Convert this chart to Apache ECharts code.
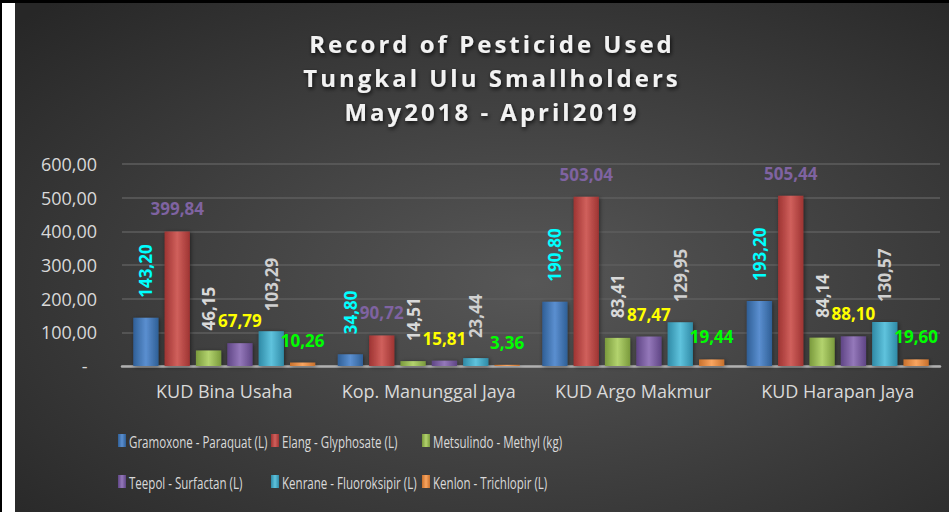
<!DOCTYPE html>
<html>
<head>
<meta charset="utf-8">
<script src="https://cdn.jsdelivr.net/npm/echarts@6/dist/echarts.min.js"></script>
<style>
html,body{margin:0;padding:0;background:#fff;}
#frame{position:relative;width:949px;height:512px;box-sizing:border-box;border-top:3px solid #000;border-left:2px solid #000;overflow:hidden;}
#chart{position:absolute;left:13px;top:0;width:934px;height:509px;}
</style>
</head>
<body>
<div id="frame"><div id="chart"></div></div>
<script>
const categories = ['KUD Bina Usaha', 'Kop. Manunggal Jaya', 'KUD Argo Makmur', 'KUD Harapan Jaya'];
const seriesNames = ['Gramoxone - Paraquat (L)', 'Elang - Glyphosate (L)', 'Metsulindo - Methyl (kg)', 'Teepol - Surfactan (L)', 'Kenrane - Fluoroksipir (L)', 'Kenlon - Trichlopir (L)'];
const gramoxone = [143.20, 34.80, 190.80, 193.20];
const elang = [399.84, 90.72, 503.04, 505.44];
const metsulindo = [46.15, 14.51, 83.41, 84.14];
const teepol = [67.79, 15.81, 87.47, 88.10];
const kenrane = [103.29, 23.44, 129.95, 130.57];
const kenlon = [10.26, 3.36, 19.44, 19.60];
const yTicks = [0, 100, 200, 300, 400, 500, 600];
const titleLines = ['Record of Pesticide Used', 'Tungkal Ulu Smallholders', 'May2018 - April2019'];

const seriesData = [gramoxone, elang, metsulindo, teepol, kenrane, kenlon];
const barColors = [
  ['#2f5f96', '#5b8fd0'],
  ['#9e3432', '#d0605c'],
  ['#7a9a3c', '#b3d36e'],
  ['#5f4585', '#9478ba'],
  ['#2f8aa6', '#5fc3dd'],
  ['#c8702c', '#f9a560']
];
const labelColors = ['#00ffff', '#7f63a1', '#d9d9d9', '#ffff00', '#d0d0d0', '#00ff00'];
const labelRotated = [true, false, true, false, true, false];
// legend icon left x / row centre y (page pixels)
const legendPos = [[118, 441], [271, 441], [422, 441], [118, 482], [271, 482], [422, 482]];

function fmt(v) { return v.toFixed(2).replace('.', ','); }

const chart = echarts.init(document.getElementById('chart'), null, { renderer: 'svg' });
const FONT = 'Open Sans, Noto Sans, sans-serif';
const OX = 15, OY = 3; // chart offset inside the page

const series = seriesData.map((d, i) => {
  const c = barColors[i];
  const lab = labelRotated[i] ? {
    show: true, position: 'top', rotate: 90, align: 'left', verticalAlign: 'middle', distance: 20,
    color: labelColors[i], fontSize: 17, fontWeight: 'bold', fontFamily: FONT,
    formatter: p => fmt(p.value)
  } : {
    show: true, position: 'top', distance: 14,
    color: labelColors[i], fontSize: 17, fontWeight: 'bold', fontFamily: FONT,
    formatter: p => fmt(p.value)
  };
  return {
    name: seriesNames[i], type: 'bar', data: d,
    barGap: '24%', barCategoryGap: '11%',
    itemStyle: {
      color: { type: 'linear', x: 0, y: 0, x2: 1, y2: 0, colorStops: [
        { offset: 0, color: c[0] }, { offset: 0.5, color: c[1] }, { offset: 1, color: c[0] }] },
      shadowColor: 'rgba(0,0,0,0.5)', shadowBlur: 4, shadowOffsetX: 1, shadowOffsetY: 1
    },
    label: lab
  };
});

// legend markers; the names are drawn beside them in a condensed (Calibri-like) width
const legends = seriesNames.map((n, i) => ({
  data: [{ name: n, icon: 'rect' }],
  left: legendPos[i][0] - OX, top: legendPos[i][1] - OY - 7, padding: 0,
  itemWidth: 8, itemHeight: 13, itemGap: 0,
  formatter: () => '',
  textStyle: { fontSize: 1, padding: 0 },
  selectedMode: false
}));
const legendTexts = seriesNames.map((n, i) => ({
  type: 'text',
  x: legendPos[i][0] - OX + 11, y: legendPos[i][1] - OY,
  scaleX: 0.68,
  style: { text: n, fill: '#d9d9d9', font: '17px ' + FONT, align: 'left', verticalAlign: 'middle' }
}));

chart.setOption({
  backgroundColor: {
    type: 'radial', x: 0.55, y: 0.55, r: 0.75,
    colorStops: [{ offset: 0, color: '#575757' }, { offset: 1, color: '#272727' }]
  },
  animation: false,
  title: {
    text: titleLines.join('\n'),
    left: 472, top: 18, textAlign: 'center',
    textStyle: {
      color: '#f2f2f2', fontSize: 24, fontWeight: 'bold', fontFamily: FONT, lineHeight: 34,
      textShadowColor: 'rgba(0,0,0,0.8)', textShadowBlur: 4, textShadowOffsetX: 1, textShadowOffsetY: 2
    }
  },
  legend: legends,
  graphic: legendTexts,
  grid: { left: 107, right: 9, top: 161, bottom: 146 },
  xAxis: {
    type: 'category', data: categories,
    axisLine: { lineStyle: { color: '#b0b0b0', width: 2.5 } },
    axisTick: { show: false },
    axisLabel: { color: '#d9d9d9', fontSize: 18, fontFamily: FONT, margin: 16, interval: 0 }
  },
  yAxis: {
    type: 'value', min: yTicks[0], max: yTicks[yTicks.length - 1], interval: 100,
    axisLine: { show: false }, axisTick: { show: false },
    splitLine: { lineStyle: { color: '#5e5e5e', width: 1.5 } },
    axisLabel: { color: '#d9d9d9', fontSize: 18, fontFamily: FONT, margin: 25,
      formatter: v => v === 0 ? '-  ' : fmt(v) }
  },
  series: series
});

// Reference title is letter-spaced.
function spaceTitle() {
  document.querySelectorAll('#chart text').forEach(t => {
    if (titleLines.indexOf(t.textContent) >= 0) t.style.letterSpacing = '3px';
  });
}
chart.on('finished', spaceTitle);
spaceTitle();
setTimeout(spaceTitle, 50);
</script>
</body>
</html>
